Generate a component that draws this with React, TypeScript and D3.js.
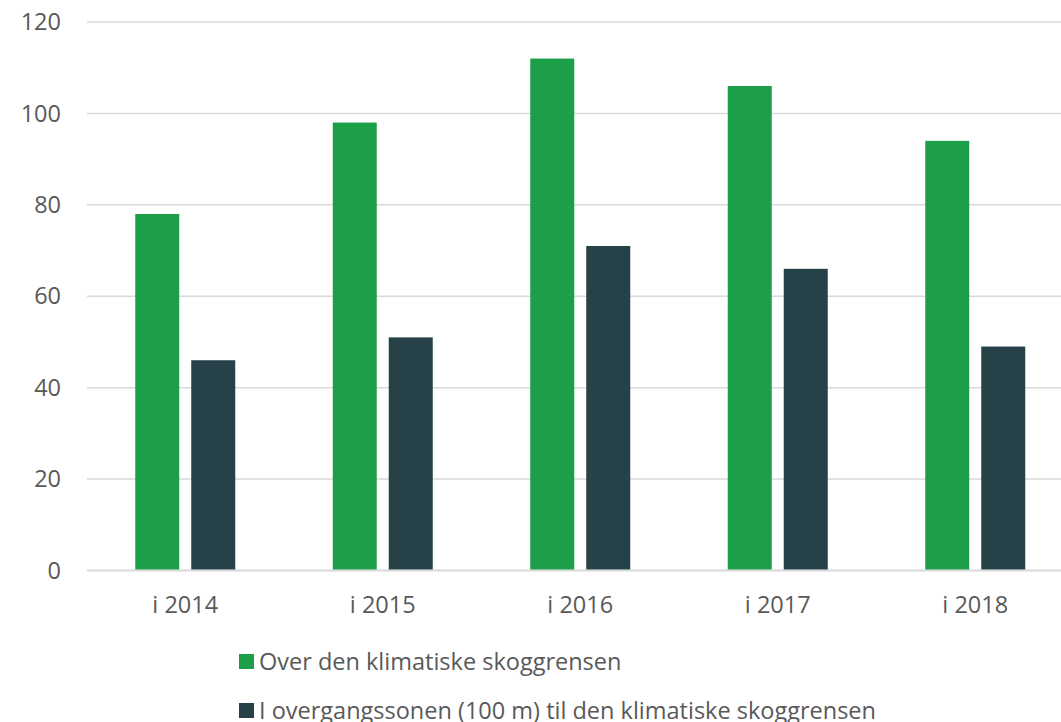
import React from "react";
import * as d3 from "d3";

const categories = ["i 2014", "i 2015", "i 2016", "i 2017", "i 2018"];
const seriesNames = [
  "Over den klimatiske skoggrensen",
  "I overgangssonen (100 m) til den klimatiske skoggrensen",
];
const overValues = [78, 98, 112, 106, 94];
const transitionValues = [46, 51, 71, 66, 49];
const yTicks = [0, 20, 40, 60, 80, 100, 120];
const colors = ["#1d9e49", "#264148"];

export default function App() {
  const W = 1061, H = 722;
  const x = d3.scaleBand<string>().domain(categories).range([86.5, 1074]).paddingInner(0).paddingOuter(0);
  const y = d3.scaleLinear().domain([0, 120]).range([570.5, 22]);
  const series = [overValues, transitionValues];
  const barW = 44, gap = 12;
  const font = "'Open Sans', sans-serif";
  const textColor = "#595959";
  return (
    <svg width={W} height={H} style={{ position: "absolute", left: 0, top: 0 }} fontFamily={font}>
      <rect width={W} height={H} fill="#fff" />
      {yTicks.map((t) => (
        <g key={t}>
          <line x1={87} x2={W} y1={y(t)} y2={y(t)} stroke="#d9d9d9" strokeWidth={t === 0 ? 2 : 1.5} />
          <text x={61} y={y(t)} dy="0.35em" textAnchor="end" fontSize={23.5} fill={textColor}>{t}</text>
        </g>
      ))}
      {categories.map((c, i) => {
        const cx = x(c)! + x.bandwidth() / 2;
        return (
          <g key={c}>
            {series.map((s, j) => {
              const bx = cx - (barW * 2 + gap) / 2 + j * (barW + gap);
              return (
                <rect key={j} x={bx} y={y(s[i])} width={barW} height={y(0) - y(s[i]) - 1} fill={colors[j]} />
              );
            })}
            <text x={cx} y={605} dy="0.35em" textAnchor="middle" fontSize={23.5} fill={textColor}>{c}</text>
          </g>
        );
      })}
      {seriesNames.map((n, j) => (
        <g key={n} transform={`translate(239, ${654 + j * 49})`}>
          <rect x={0} y={0} width={15} height={15} fill={colors[j]} />
          <text x={20} y={7.5} dy="0.35em" fontSize={23.5} fill={textColor}>{n}</text>
        </g>
      ))}
    </svg>
  );
}
